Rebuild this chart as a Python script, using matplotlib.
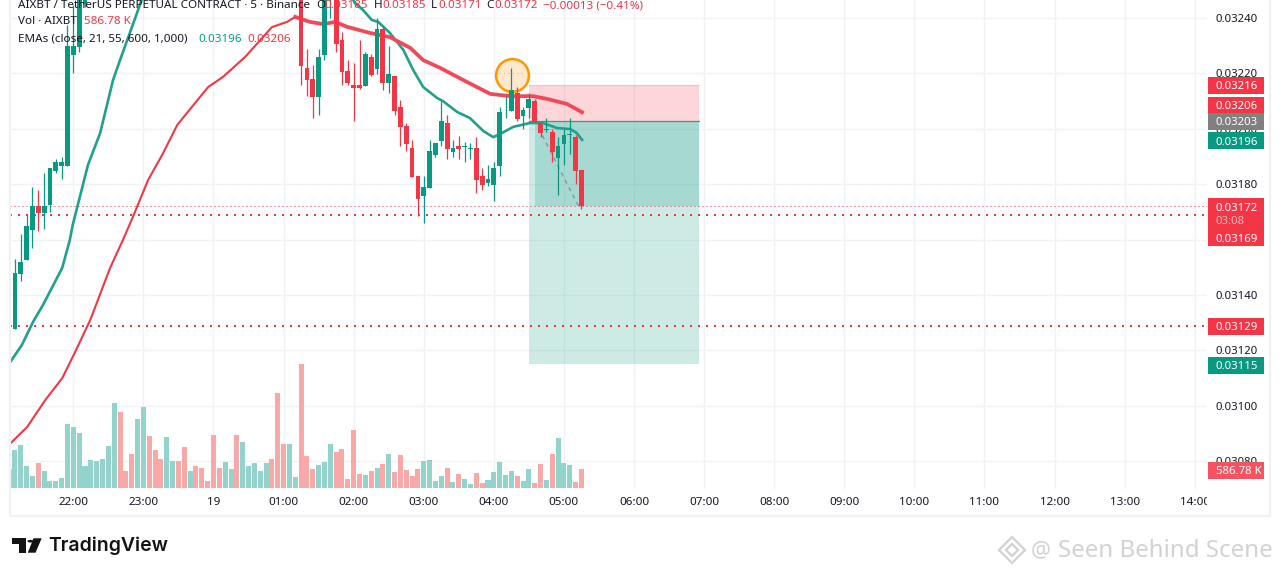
import numpy as np
import matplotlib
matplotlib.use("Agg")
import matplotlib.pyplot as plt
from matplotlib.patches import Rectangle, Polygon, Circle
from matplotlib.transforms import Bbox

W, H = 1281, 576
nan = np.nan

# bars are counted from the 22:00 candle, 5 minutes each
first_bar = -11

opens = [
    0.031288, 0.031277, 0.031476, 0.031526, 0.031635, 0.031721, 0.031696, 0.031725, 0.031848, 0.031866,
    0.031866, 0.032266, 0.032295, 0.032451] + [nan] * 36 + [
    0.03252, 0.032220, 0.032180, 0.032115, 0.032266, 0.03250, 0.03255, 0.032321, 0.032209, 0.032158,
    0.032158, 0.032155, 0.032259, 0.032216, 0.032360, 0.032165, 0.032191, 0.032079, 0.032010, 0.031931,
    0.031830, 0.031757, 0.031786, 0.031905, 0.031956, 0.032021, 0.031916, 0.031938, 0.031935, 0.031929,
    0.031931, 0.031830, 0.031804, 0.031797, 0.031866, 0.032077, 0.032064, 0.032129, 0.032046, 0.032075,
    0.032100, 0.032021, 0.031997, 0.031988, 0.031895, 0.031945, 0.031977, 0.031970, 0.03185]
closes = [
    0.031266, 0.031480, 0.031519, 0.031649, 0.031721, 0.031696, 0.031721, 0.031859, 0.031880, 0.031880,
    0.032299, 0.032299, 0.03252, 0.03262] + [nan] * 36 + [
    0.032227, 0.032176, 0.032115, 0.032259, 0.03255, 0.03258, 0.032306, 0.032205, 0.032165, 0.032147,
    0.032147, 0.032270, 0.032194, 0.032360, 0.032165, 0.032198, 0.032064, 0.032007, 0.031945, 0.031826,
    0.031747, 0.031790, 0.031920, 0.031949, 0.032028, 0.031927, 0.031931, 0.031927, 0.031938, 0.031932,
    0.031815, 0.031797, 0.031819, 0.031859, 0.032061, 0.032080, 0.032140, 0.032035, 0.032068, 0.032108,
    0.032025, 0.031985, 0.032000, 0.031916, 0.031938, 0.031978, 0.031980, 0.031848, 0.03172]
highs = [
    0.03130, 0.031530, 0.031620, 0.031689, 0.031790, 0.031779, 0.031840, 0.031859, 0.031891, 0.031898,
    0.032375, 0.032447, 0.03255, 0.03265] + [nan] * 36 + [
    0.03255, 0.032288, 0.032230, 0.032288, 0.03258, 0.03262, 0.03258, 0.032349, 0.032248, 0.032238,
    0.032321, 0.032277, 0.032270, 0.032400, 0.032367, 0.032299, 0.032191, 0.032104, 0.032021, 0.031959,
    0.031830, 0.031830, 0.031959, 0.031949, 0.032100, 0.032050, 0.031959, 0.031974, 0.031952, 0.031949,
    0.031970, 0.031859, 0.031869, 0.031880, 0.032079, 0.032118, 0.032220, 0.032151, 0.032079, 0.032129,
    0.032108, 0.032021, 0.032039, 0.031999, 0.031970, 0.031999, 0.032039, 0.031978, 0.03185]
lows = [
    0.03126, 0.031277, 0.031451, 0.031526, 0.031570, 0.031631, 0.031638, 0.031700, 0.031840, 0.031819,
    0.031866, 0.032202, 0.032277, 0.03244] + [nan] * 36 + [
    0.032158, 0.032118, 0.032039, 0.032050, 0.032248, 0.03240, 0.032277, 0.032158, 0.032158, 0.032028,
    0.032144, 0.032155, 0.032191, 0.032198, 0.032140, 0.032129, 0.032050, 0.031938, 0.031920, 0.031826,
    0.031685, 0.031660, 0.031786, 0.031898, 0.031938, 0.031891, 0.031898, 0.031891, 0.031880, 0.031891,
    0.031768, 0.031779, 0.031794, 0.031739, 0.031830, 0.032039, 0.032064, 0.032028, 0.031999, 0.032039,
    0.032025, 0.031970, 0.031988, 0.031880, 0.031761, 0.031869, 0.031909, 0.031801, 0.03171]

# volume in thousands, direction of each bar (r / g)
volumes = [
    587, 1174, 1329, 680, 371, 773, 525, 216, 216, 309, 1978,
    1885, 1700, 680, 865, 834, 896, 1298, 2627, 2348, 525, 1051, 2132,
    2503, 1607, 1174, 896, 1576, 834, 834, 1267, 525, 680, 618, 216,
    1638, 618, 803, 587, 1638, 1421, 680, 773, 525, 773, 896, 2936,
    1360, 1360, 340, 3832, 989, 587, 711, 803, 1360, 1112, 1205, 278,
    1792, 433, 402, 525, 618, 742, 1051, 494, 1020, 556, 371, 587,
    834, 865, 216, 371, 618, 185, 433, 278, 124, 464, 155, 247,
    494, 803, 402, 525, 371, 216, 587, 155, 742, 247, 1051, 1545,
    773, 711, 185, 587]
directions = ("r" "gggg" "r" "ggggggggggggg" "rrr" "gg" "rrr" "gg" "rr" "g" "rrrrr" "gg" "r" "ggggg"
              "rrr" "gg" "rrr" "ggg" "rrrrr" "g" "r" "g" "r" "g" "rrrrr" "gggg" "r" "g" "r" "gg" "rr"
              "ggggg" "r" "gg" "rr" "g" "r" "ggg" "rr")

ema_fast_bars = [-10.8, -8.8, -6.9, -5.2, -1.9, -0.6, -0.1, 2.5, 4.6, 6.8, 8.0, 11.4, 12.4, nan,
                 47.2, 48.2, 49.6, 51.1, 52.2, 54.2, 56.5, 58.2, 59.9, 62.3, 63.3, 65.7, 67.9, 70.2,
                 71.9, 73.4, 75.3, 78.2, 80.4, 82.8, 85.1, 86.2, 87.1]
ema_fast = [0.031158, 0.031220, 0.031303, 0.031364, 0.031498, 0.031599, 0.031653, 0.031869, 0.031985,
            0.032176, 0.032248, 0.032447, 0.032508, nan,
            0.032494, 0.032454, 0.032429, 0.032393, 0.032386, 0.032346, 0.032285, 0.032212, 0.032151,
            0.032111, 0.032100, 0.032061, 0.032039, 0.031992, 0.031970, 0.031985, 0.032007, 0.032021,
            0.032021, 0.032003, 0.031999, 0.031985, 0.03196]
ema_slow_bars = [-10.7, -7.9, -4.8, -1.9, 0.3, 2.9, 6.3, 8.5, 10.2, 12.8, 15.4, 17.8, 20.3, 23.1, 25.6,
                 29.4, 34.0, 36.6, 38.0, 40.5, 42.8, 44.8, 46.9, 50.8, 54.2, 57.7, 59.9, 62.8, 67.4,
                 71.4, 74.8, 78.7, 81.1, 84.5, 87.1]
ema_slow = [0.030866, 0.030924, 0.031021, 0.031100, 0.031194, 0.031310, 0.031498, 0.031599, 0.031682,
            0.031815, 0.031913, 0.032014, 0.032079, 0.032151, 0.032187, 0.032259, 0.032367, 0.032386,
            0.032404, 0.032386, 0.032378, 0.032386, 0.032368, 0.032346, 0.032331, 0.032292, 0.032248,
            0.032220, 0.032169, 0.032126, 0.032118, 0.032118, 0.032108, 0.032090, 0.03206]
ema_slow_thick_from = 18

# long/short drawing
position_bars = [78.0, 107.2]
fill_start_bar = 79.0
stop_price = 0.03216
entry_price = 0.03203
target_price = 0.03115
last_price = 0.03172
path_bars = [79.0, 86.4, 87.0]
path_prices = [0.03203, 0.031725, 0.03172]
alert_bar, alert_price = 75.1, 0.032194

dotted_thin = [0.03172]
dotted_thick = [0.03169, 0.03129]

price_ticks = [0.0324, 0.0322, 0.0320, 0.0318, 0.0316, 0.0314, 0.0312, 0.0310, 0.0308]
hidden_price_labels = [0.0316]  # sits fully behind the red box
time_tick_bars = [0, 12, 24, 36, 48, 60, 72, 84, 96, 108, 120, 132, 144, 156, 168, 180, 192]
time_tick_labels = ["22:00", "23:00", "19", "01:00", "02:00", "03:00", "04:00", "05:00", "06:00", "07:00",
                    "08:00", "09:00", "10:00", "11:00", "12:00", "13:00", "14:00"]

GREEN = "#089981"
RED = "#f23645"
GRID = "#f1f2f5"
TEXT = "#131722"
FONT = ["Noto Sans", "DejaVu Sans"]
plt.rcParams["font.family"] = FONT


def fx(px):
    return px / W


def fy(py):
    return 1 - py / H


fig = plt.figure(figsize=(W / 100, H / 100), dpi=100, facecolor="white")

# ───────── panes ─────────
pane_right, pane_bottom = 1207, 489
ax = fig.add_axes([fx(10), fy(pane_bottom), fx(pane_right - 10), pane_bottom / H])
ax.set_xlim(-10.84, 194.1)
ax.set_ylim(0.0307, 0.032465)
for s in ax.spines.values():
    s.set_visible(False)
ax.set_axisbelow(True)
ax.grid(True, color=GRID, lw=1)
ax.set_yticks(price_ticks)
ax.tick_params(axis="y", length=0, labelleft=False)
ax.set_xticks(time_tick_bars)
ax.set_xticklabels(time_tick_labels, fontsize=8.4, color=TEXT)
ax.tick_params(axis="x", length=0, pad=6)
clip_time = Bbox([[0, 0], [pane_right, H]])
for lbl in ax.get_xticklabels():
    lbl.set_clip_box(clip_time)
    lbl.set_clip_on(True)

bars = np.arange(first_bar, first_bar + len(volumes))
o, c, hi, lo = map(np.array, (opens, closes, highs, lows))
is_up = np.array([d == "g" for d in directions])

# position zones
x0, x1 = position_bars
ax.add_patch(Rectangle((x0, entry_price), x1 - x0, stop_price - entry_price, fc=RED, alpha=0.2, lw=0, zorder=1))
ax.add_patch(Rectangle((x0, target_price), x1 - x0, entry_price - target_price, fc=GREEN, alpha=0.2, lw=0, zorder=1))
ax.add_patch(Rectangle((fill_start_bar, last_price), x1 - fill_start_bar, entry_price - last_price,
                       fc=GREEN, alpha=0.2, lw=0, zorder=1))
ax.plot([x0, x1], [stop_price, stop_price], color=RED, alpha=0.15, lw=0.8, zorder=1.1)
ax.plot([x0, x1], [entry_price, entry_price], color="#787b86", lw=0.9, zorder=1.2)
ax.plot(path_bars, path_prices, color="#8f9299", lw=1, ls=(0, (3, 3)), zorder=1.3)

# dotted level lines
for p in dotted_thin:
    ax.axhline(p, color=RED, lw=0.72, ls=(0, (1, 3)), zorder=2)
for p in dotted_thick:
    ax.axhline(p, color=RED, lw=1.44, ls=(0, (1, 3)), zorder=2)

# EMAs
ax.plot(ema_fast_bars, ema_fast, color="#22a08c", lw=1.9, zorder=3, solid_joinstyle="round")
ax.plot(ema_slow_bars[:ema_slow_thick_from + 1], ema_slow[:ema_slow_thick_from + 1], color=RED, lw=1.5, zorder=3)
ax.plot(ema_slow_bars[ema_slow_thick_from:], ema_slow[ema_slow_thick_from:], color="#f2495a", lw=2.7, zorder=3)

# alert circle
ax.scatter([alert_bar], [alert_price], s=560, fc="#ffe8cc", ec="#ff9800", lw=1.8, zorder=3.5, clip_on=False)
ax.plot([alert_bar - 2.2, alert_bar + 2.2], [0.03220, 0.03220], color="#f7a6a6", lw=0.8, ls=(0, (1, 3)), zorder=3.6)

# candles
colors = np.where(is_up, GREEN, RED)
keep = ~np.isnan(o)
ax.vlines(bars[keep], lo[keep], hi[keep], colors=colors[keep], lw=0.9, zorder=4)
ax.bar(bars[keep], (c - o)[keep], bottom=o[keep], width=0.82, color=colors[keep], lw=0, zorder=4.1)

# volume pane: shares x, own scale
ax_vol = ax.twinx()
ax_vol.set_ylim(-31, 15080)
ax_vol.patch.set_visible(False)
for s in ax_vol.spines.values():
    s.set_visible(False)
ax_vol.set_yticks([])
ax_vol.bar(bars, volumes, width=0.86, color=np.where(is_up, "#92d3cb", "#f9a8a8"), lw=0)

# ───────── price scale ─────────
ax_p = fig.add_axes([fx(pane_right), fy(pane_bottom), fx(1270 - pane_right), pane_bottom / H], sharey=ax)
ax_p.set_xlim(pane_right, 1270)
ax_p.axis("off")
text_shift = 0.0000045  # one pixel or so, text sits high with va=center
for p in price_ticks:
    if p in hidden_price_labels:
        continue
    ax_p.text(1216, p - text_shift, f"{p:.5f}", fontsize=8.2, color=TEXT, va="center", ha="left")

box_h = 0.0000615
box_shift = 0.0000036


def price_box(center, label, color, text_color="white", height=box_h):
    center = center - box_shift
    ax_p.add_patch(Rectangle((1208, center - height / 2), 56, height, fc=color, lw=0, zorder=5))
    ax_p.text(1216, center - text_shift, label, fontsize=8.2, color=text_color, va="center", ha="left", zorder=6,
              fontweight="bold")


price_box(0.03216, "0.03216", RED)
price_box(0.032088, "0.03206", RED)
price_box(0.03203, "0.03203", "#808080")
price_box(0.03196, "0.03196", GREEN)
ax_p.add_patch(Rectangle((1208, 0.031577), 56, 0.000175, fc=RED, lw=0, zorder=5))
ax_p.text(1216, 0.03172 - 2 * text_shift, "0.03172", fontsize=8.2, color="white", va="center", zorder=6, fontweight="bold")
ax_p.text(1216, 0.03167 - text_shift, "03:08", fontsize=8.2, color="#fbb6bc", va="center", zorder=6)
ax_p.text(1216, 0.03161 - 2 * text_shift, "0.03169", fontsize=8.2, color="white", va="center", zorder=6, fontweight="bold")
price_box(0.03129, "0.03129", RED)
price_box(0.03115, "0.03115", GREEN)
price_box(0.030772, "586.78 K", "#f7525f")

# ───────── chart frame ─────────
fig.add_artist(Rectangle((fx(10), fy(516)), fx(1260), 516 / H + 0.02, fill=False, ec=GRID, lw=1.6,
                         transform=fig.transFigure, clip_on=False))

# ───────── legend lines ─────────
LEG = 8.4
fig.text(fx(18), fy(6), "AIXBT / TetherUS PERPETUAL CONTRACT · 5 · Binance", fontsize=LEG, color=TEXT, va="center")
for x_lab, lab, x_val, val in [(316, "O", 324, "0.03185"), (374, "H", 382, "0.03185"),
                               (431, "L", 438, "0.03171"), (486, "C", 494, "0.03172")]:
    fig.text(fx(x_lab), fy(6), lab, fontsize=LEG, color=TEXT, va="center")
    fig.text(fx(x_val), fy(6), val, fontsize=LEG, color=RED, va="center")
fig.text(fx(543), fy(6), "−0.00013 (−0.41%)", fontsize=LEG, color=RED, va="center")
fig.text(fx(18), fy(22), "Vol · AIXBT", fontsize=LEG, color=TEXT, va="center")
fig.text(fx(84), fy(22), "586.78 K", fontsize=LEG, color=RED, va="center")
fig.text(fx(18), fy(39), "EMAs (close, 21, 55, 600, 1,000)", fontsize=LEG, color=TEXT, va="center")
fig.text(fx(198), fy(39), "0.03196", fontsize=LEG, color=GREEN, va="center")
fig.text(fx(247), fy(39), "0.03206", fontsize=LEG, color=RED, va="center")

# ───────── logo ─────────
LOGO = "#131313"
for shape in ([(12, 538.3), (25.7, 538.3), (25.7, 552.7), (18.7, 552.7), (18.7, 544.3), (12, 544.3)],
              [(33.5, 538.3), (41.7, 538.3), (35.5, 552.7), (27.8, 552.7)]):
    fig.add_artist(Polygon([(fx(a), fy(b)) for a, b in shape], closed=True, fc=LOGO, lw=0, transform=fig.transFigure))
fig.add_artist(Circle((fx(30.5), fy(541.2)), 3 / W, fc=LOGO, lw=0, transform=fig.transFigure))
fig.text(fx(48), fy(546), "TradingView", fontsize=14, fontweight="semibold", family="Inter", color=LOGO, va="center")

# ───────── watermark ─────────
MARK = "#d2d2d2"
for cx, cy, r in [(1012, 550, 13), (1012, 550, 6)]:
    fig.add_artist(Polygon([(fx(cx - r), fy(cy)), (fx(cx), fy(cy - r)), (fx(cx + r), fy(cy)), (fx(cx), fy(cy + r))],
                           closed=True, fill=False, ec=MARK, lw=1.6, transform=fig.transFigure))
fig.text(fx(1031), fy(551), "@", fontsize=16, color=MARK, va="center")
fig.text(fx(1058), fy(551), "Seen Behind Scene", fontsize=17.3, color=MARK, va="center")

fig.savefig("out.png", dpi=100)
